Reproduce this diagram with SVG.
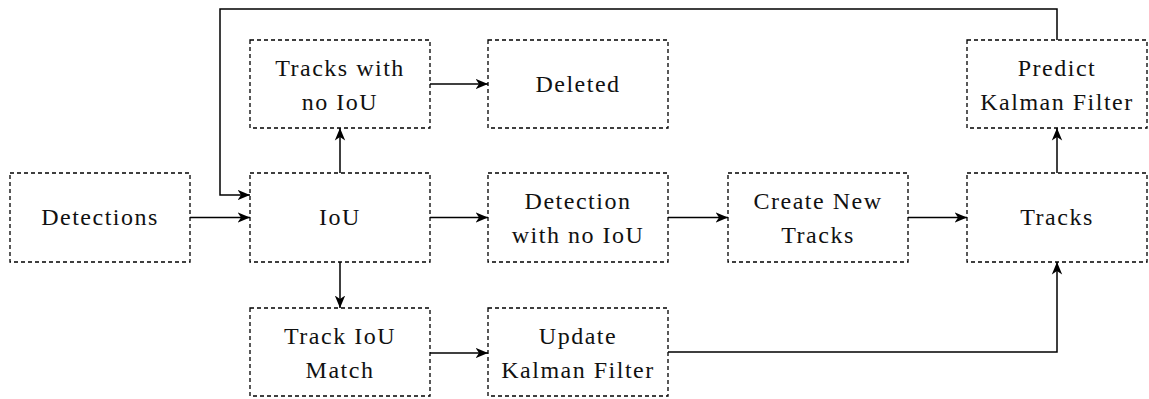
<svg xmlns="http://www.w3.org/2000/svg" width="1149" height="399" viewBox="0 0 1149 399">
  <style>
    .box { fill: none; stroke: #000; stroke-width: 1.3; stroke-dasharray: 4 3; }
    text { font-family: 'Liberation Serif', 'Times New Roman', Times, 'Noto Serif', 'DejaVu Serif', Georgia, serif; font-size: 24px; fill: #111; text-anchor: middle; letter-spacing: 1.5px; }
    .edge { fill: none; stroke: #000; stroke-width: 1.5; marker-end: url(#arrow); }
  </style>
  <defs>
    <!-- stealth-style arrowhead shared by all connectors -->
    <marker id="arrow" markerWidth="14" markerHeight="12" refX="12.5" refY="6" orient="auto" markerUnits="userSpaceOnUse">
      <path d="M0,0.8 L12.5,6 L0,11.2 L3.5,6 Z" fill="#000"/>
    </marker>
  </defs>
  <rect width="1149" height="399" fill="#fff"/>

  <g id="detections">
    <rect class="box" x="10" y="173" width="180" height="89"/>
    <text x="100" y="225">Detections</text>
  </g>
  <g id="iou">
    <rect class="box" x="250" y="173" width="180" height="89"/>
    <text x="340" y="225">IoU</text>
  </g>
  <g id="tracks-no-iou">
    <rect class="box" x="250" y="40" width="180" height="88"/>
    <text x="340" y="76">Tracks with</text>
    <text x="340" y="110">no IoU</text>
  </g>
  <g id="deleted">
    <rect class="box" x="488" y="40" width="180" height="88"/>
    <text x="578" y="92">Deleted</text>
  </g>
  <g id="detection-no-iou">
    <rect class="box" x="488" y="173" width="180" height="89"/>
    <text x="578" y="209">Detection</text>
    <text x="578" y="243">with no IoU</text>
  </g>
  <g id="create-new-tracks">
    <rect class="box" x="728" y="173" width="180" height="89"/>
    <text x="818" y="209">Create New</text>
    <text x="818" y="243">Tracks</text>
  </g>
  <g id="tracks">
    <rect class="box" x="967" y="173" width="180" height="89"/>
    <text x="1057" y="225">Tracks</text>
  </g>
  <g id="predict-kf">
    <rect class="box" x="967" y="40" width="180" height="88"/>
    <text x="1057" y="76">Predict</text>
    <text x="1057" y="110">Kalman Filter</text>
  </g>
  <g id="track-iou-match">
    <rect class="box" x="250" y="308" width="180" height="88"/>
    <text x="340" y="344">Track IoU</text>
    <text x="340" y="378">Match</text>
  </g>
  <g id="update-kf">
    <rect class="box" x="488" y="308" width="180" height="88"/>
    <text x="578" y="344">Update</text>
    <text x="578" y="378">Kalman Filter</text>
  </g>

  <g id="connectors">
    <path class="edge" d="M190,217.5 H250"/>
    <path class="edge" d="M1057,40 V9 H220 V195 H250"/>
    <path class="edge" d="M340,173 V128"/>
    <path class="edge" d="M430,84 H488"/>
    <path class="edge" d="M430,217.5 H488"/>
    <path class="edge" d="M668,217.5 H728"/>
    <path class="edge" d="M908,217.5 H967"/>
    <path class="edge" d="M1057,173 V128"/>
    <path class="edge" d="M340,262 V308"/>
    <path class="edge" d="M430,353 H488"/>
    <path class="edge" d="M668,352 H1057 V262"/>
  </g>
</svg>
